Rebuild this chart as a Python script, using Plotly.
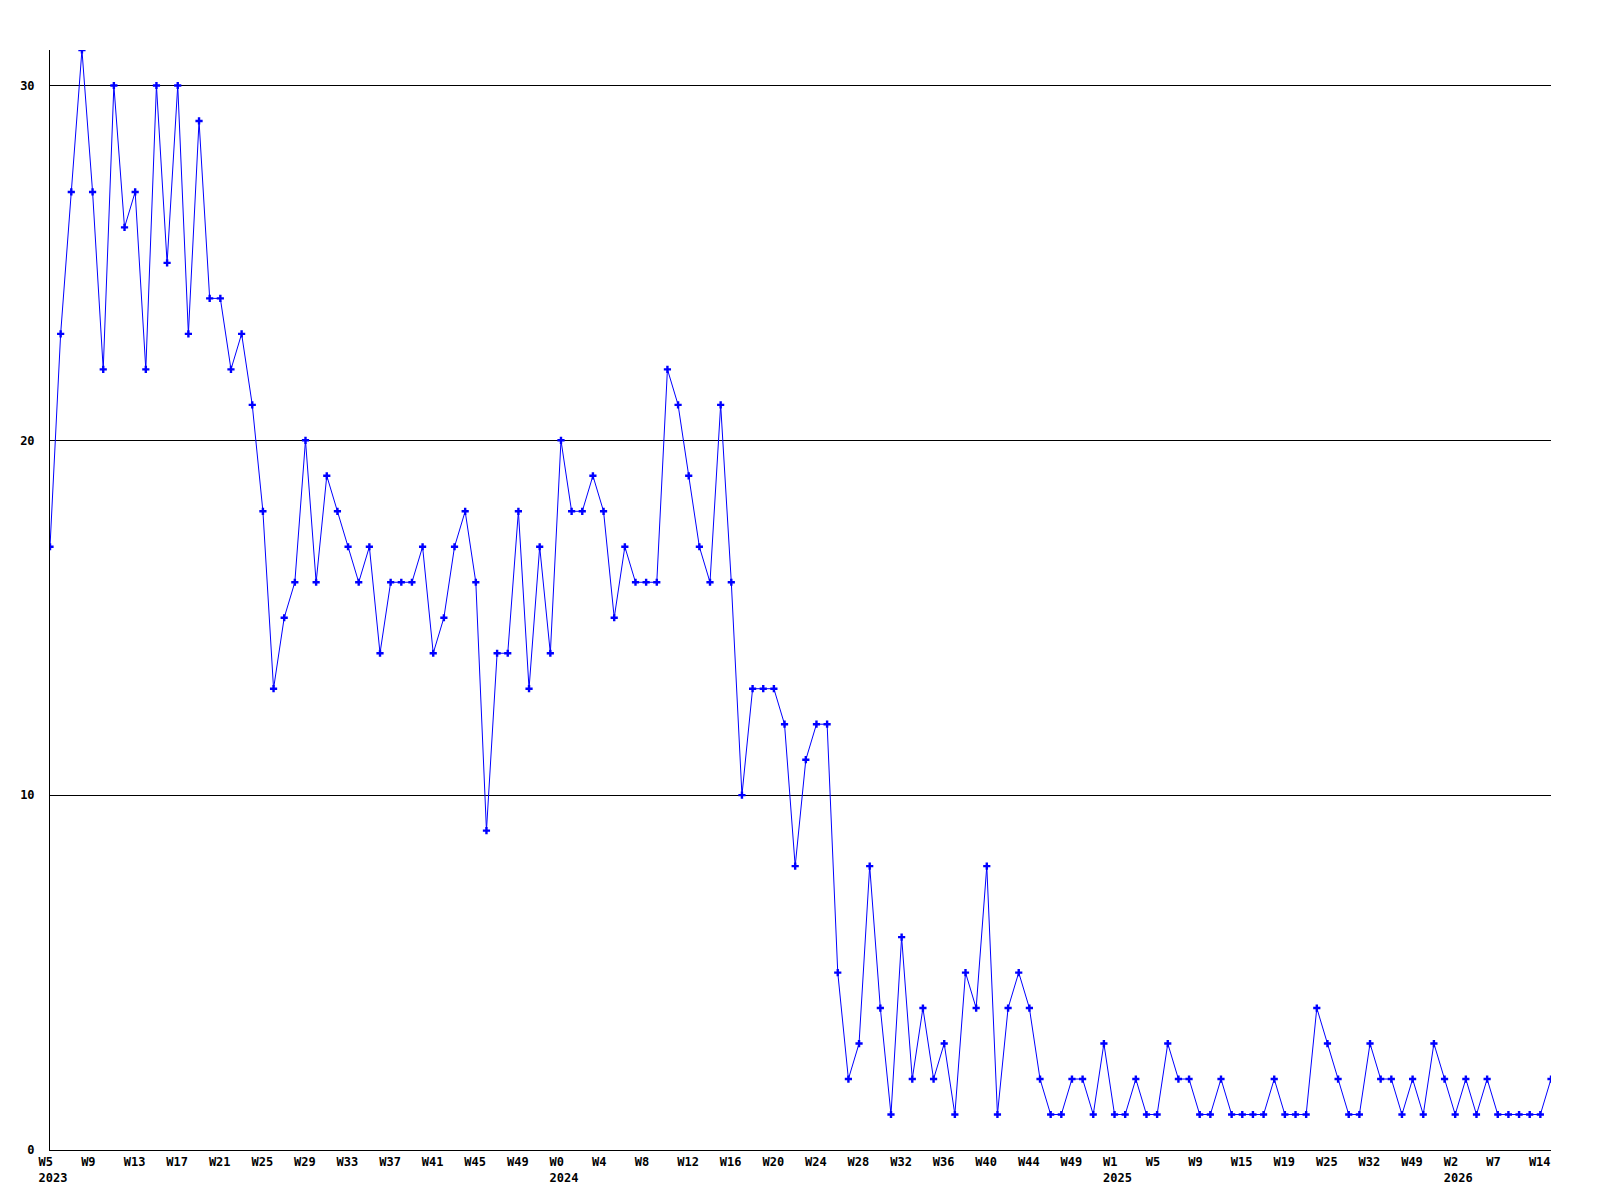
import plotly.graph_objects as go

# Weekly counts (one point per week)
values = [
    17, 23, 27, 31, 27, 22, 30, 26, 27, 22, 30, 25, 30, 23, 29, 24, 24, 22, 23, 21,
    18, 13, 15, 16, 20, 16, 19, 18, 17, 16, 17, 14, 16, 16, 16, 17, 14, 15, 17, 18,
    16, 9, 14, 14, 18, 13, 17, 14, 20, 18, 18, 19, 18, 15, 17, 16, 16, 16, 22, 21,
    19, 17, 16, 21, 16, 10, 13, 13, 13, 12, 8, 11, 12, 12, 5, 2, 3, 8, 4, 1,
    6, 2, 4, 2, 3, 1, 5, 4, 8, 1, 4, 5, 4, 2, 1, 1, 2, 2, 1, 3,
    1, 1, 2, 1, 1, 3, 2, 2, 1, 1, 2, 1, 1, 1, 1, 2, 1, 1, 1, 4,
    3, 2, 1, 1, 3, 2, 2, 1, 2, 1, 3, 2, 1, 2, 1, 2, 1, 1, 1, 1,
    1, 2,
]

# Tick labels (every 4th week)
week_labels = ["W5", "W9", "W13", "W17", "W21", "W25", "W29", "W33", "W37", "W41",
               "W45", "W49", "W0", "W4", "W8", "W12", "W16", "W20", "W24", "W28",
               "W32", "W36", "W40", "W44", "W49", "W1", "W5", "W9", "W15", "W19",
               "W25", "W32", "W49", "W2", "W7", "W14"]
year_labels = {0: "2023", 12: "2024", 25: "2025", 33: "2026"}
tick_step = 4

x = list(range(len(values)))
tickvals = [i * tick_step for i in range(len(week_labels))]

# left-align label lines by padding to a fixed width (monospace font)
PAD = 4
def pad(s):
    return s + "\u00a0" * (PAD - len(s))

ticktext = [pad(lbl) + ("<br>" + pad(year_labels[i]) if i in year_labels else "")
            for i, lbl in enumerate(week_labels)]

font_family = "DejaVu Sans Mono"
tick_font = dict(family=font_family, size=12, color="black", weight="bold")

fig = go.Figure(
    go.Scatter(
        x=x, y=values, mode="lines+markers",
        line=dict(color="#0000ff", width=1),
        marker=dict(symbol="cross", size=6, color="#0000ff", line=dict(width=0)),
        hoverinfo="y",
    )
)

fig.update_layout(
    width=1600, height=1200,
    margin=dict(l=42, r=57, t=42, b=58, autoexpand=False),
    paper_bgcolor="white", plot_bgcolor="white",
    showlegend=False,
    font=tick_font,
)

fig.update_xaxes(
    range=[0, len(values) - 1],
    tickmode="array", tickvals=tickvals, ticktext=ticktext,
    ticks="", showgrid=False, zeroline=False,
    showline=True, linecolor="black", linewidth=1,
    tickfont=tick_font, automargin=False,
    ticklabelshift=3, ticklabelstandoff=1,
)

fig.update_yaxes(
    range=[0, 31], dtick=10, tick0=0,
    ticks="", showgrid=True, gridcolor="black", gridwidth=1,
    zeroline=False, showline=True, linecolor="black", linewidth=1,
    tickfont=tick_font, automargin=False,
    ticklabelstandoff=12,
)

fig.write_html("out.html")
